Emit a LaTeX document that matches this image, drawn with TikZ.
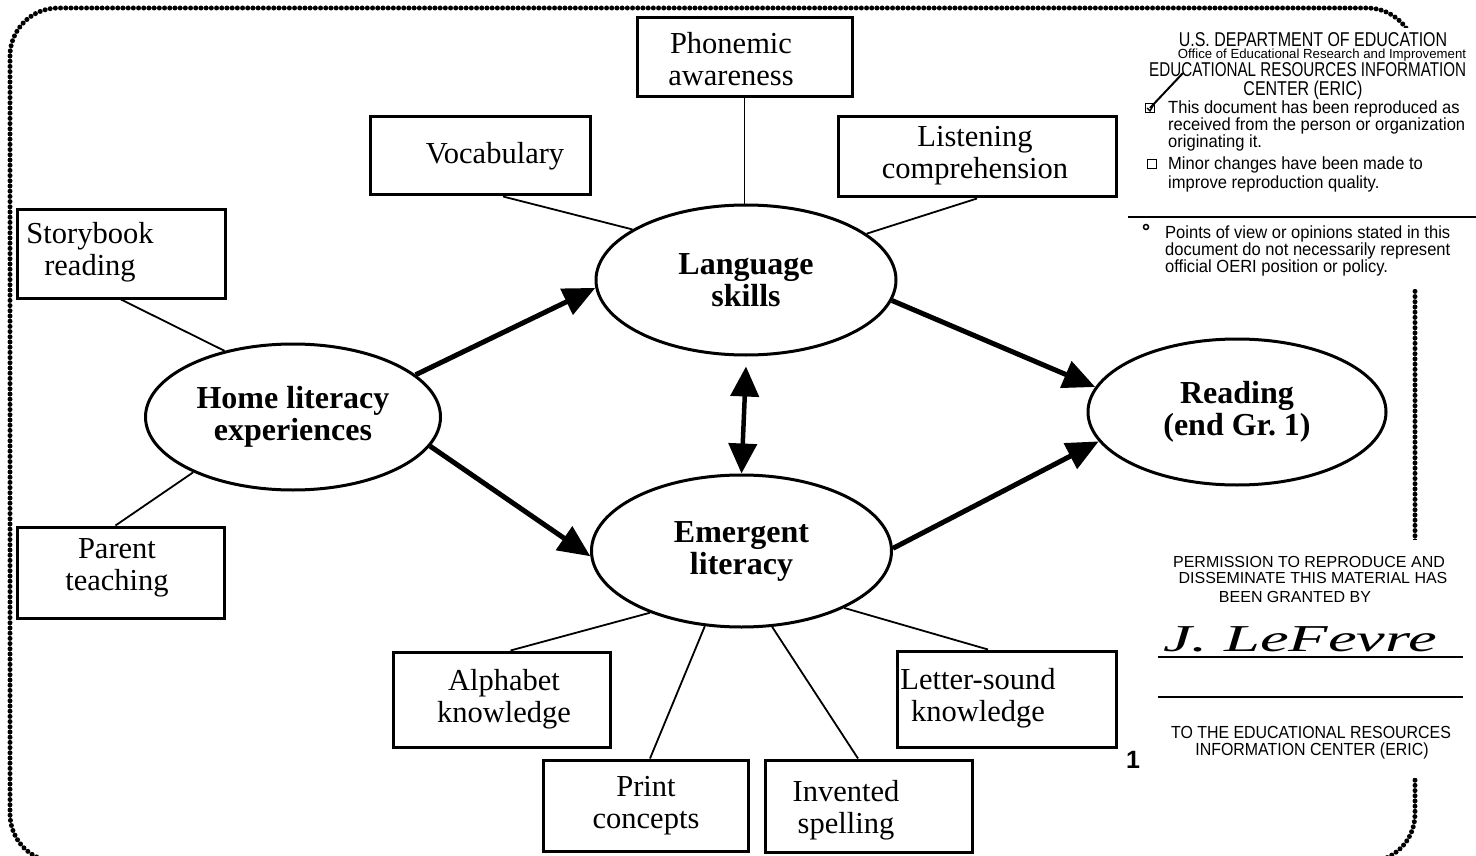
\documentclass[tikz,border=0pt]{standalone}
\usepackage{fontspec}
\setmainfont{Liberation Serif}
\newfontfamily\ericsans{Liberation Sans}
\usetikzlibrary{shapes.geometric,arrows.meta}
\newcommand\ericnarrow[2]{\scalebox{#1}[1]{#2}}
\begin{document}
\begin{tikzpicture}[x=1pt,y=-1pt,
  box/.style={draw,line width=3pt,inner sep=0pt},
  ell/.style={draw,ellipse,line width=3pt,inner sep=0pt,align=center,font=\fontsize{32}{32}\selectfont\bfseries},
  lbl/.style={inner sep=0pt,align=center,font=\fontsize{30.5}{32}\selectfont},
  conn/.style={line width=1.8pt},
  bigarrow/.style={line width=5pt,-{Triangle[length=32pt,width=28pt]}},
  dblarrow/.style={line width=4.5pt,{Triangle[length=30pt,width=28pt]}-{Triangle[length=30pt,width=28pt]}},
  border/.style={line width=5pt,dash pattern=on 0pt off 5.2pt,line cap=round,rounded corners=48pt},
  erichead/.style={inner sep=0pt,anchor=base,font=\ericsans\fontsize{20}{20}\selectfont},
  ericbody/.style={inner sep=0pt,anchor=base west,font=\ericsans\fontsize{17.6}{18}\selectfont},
  ericlow/.style={inner sep=0pt,anchor=base,font=\ericsans\fontsize{16}{17}\selectfont},
  rulel/.style={line width=1.6pt}
]
\useasboundingbox (0,0) rectangle (1476,856);
% border
\draw[border] (10,8) rectangle (1415,862);
\fill[white] (1125,28) rectangle (1476,289);
\fill[white] (1150,540) rectangle (1476,778);

% ellipses
\node[ell,minimum width=300pt,minimum height=150pt] (lang) at (746,280) {Language\\skills};
\node[ell,minimum width=300pt,minimum height=152pt] (emer) at (741.5,551) {Emergent\\literacy};
\node[ell,minimum width=295pt,minimum height=146pt] (home) at (293,417) {Home literacy\\experiences};
\node[ell,minimum width=298pt,minimum height=146pt] (read) at (1237,412) {Reading\\(end Gr.~1)};

% boxes
\node[box,minimum width=215pt,minimum height=79pt] (phon) at (744.5,57.5) {};
\node[box,minimum width=220pt,minimum height=78pt] (voc) at (480,156) {};
\node[box,minimum width=278pt,minimum height=80pt] (lis) at (977,157) {};
\node[box,minimum width=208pt,minimum height=89pt] (story) at (121,253.5) {};
\node[box,minimum width=207pt,minimum height=91pt] (parent) at (120.5,572.5) {};
\node[box,minimum width=217pt,minimum height=95pt] (alpha) at (501.5,699.5) {};
\node[box,minimum width=205pt,minimum height=91pt] (print) at (645.5,805.5) {};
\node[box,minimum width=207pt,minimum height=92pt] (inv) at (868.5,806) {};
\node[box,minimum width=219pt,minimum height=96pt] (letter) at (1006.5,699) {};

% box labels
\node[lbl] (phont) at (731,59) {Phonemic\\awareness};
\node[lbl] (voct) at (495,156) {Vocabulary};
\node[lbl] (list) at (975,156) {Listening\\comprehension};
\node[lbl] (storyt) at (90,252) {Storybook\\reading};
\node[lbl] (parentt) at (117,568) {Parent\\teaching};
\node[lbl] (alphat) at (504,699) {Alphabet\\knowledge};
\node[lbl] (printt) at (646,806) {Print\\concepts};
\node[lbl] (invt) at (846,810) {Invented\\spelling};
\node[lbl] (lettert) at (978,698) {Letter-sound\\knowledge};

% thin connectors
\draw[conn] ([xshift=23pt]voc.south) -- (lang.156);
\draw[conn] (phon.south) -- (phon.south |- lang.north);
\draw[conn] (lis.south) -- (lang.21);
\draw[conn] (story.south) -- (home.136);
\draw[conn] ([xshift=-5pt]parent.north) -- (home.209);
\draw[conn] ([xshift=9pt]alpha.north) -- (emer.214);
\draw[conn] ([xshift=4.5pt]print.north) -- (emer.244);
\draw[conn] ([xshift=-10.5pt]inv.north) -- (emer.292.7);
\draw[conn] ([xshift=-18.5pt]letter.north) -- (emer.331.6);

% thick arrows
\draw[bigarrow] (home.19.6) -- (lang.183);
\draw[bigarrow] (home.348) -- (emer.182);
\draw[bigarrow] (lang.352) -- (read.170);
\draw[bigarrow] (emer.1) -- (read.192);
\draw[dblarrow] ([yshift=-10pt]lang.south) -- (emer.north);

% ERIC stamp, upper part
\node[erichead] (h1) at (1313,47) {\ericnarrow{0.8}{U.S. DEPARTMENT OF EDUCATION}};
\node[inner sep=0pt,anchor=base,font=\ericsans\fontsize{13.2}{14}\selectfont] (h2) at (1322,59) {Office of Educational Research and Improvement};
\node[erichead,anchor=base west] (h3) at (1149,77) {\ericnarrow{0.76}{EDUCATIONAL RESOURCES INFORMATION}};
\node[erichead] (h4) at (1303,96) {\ericnarrow{0.8}{CENTER (ERIC)}};
\node[draw,line width=1.4pt,minimum size=9pt,inner sep=0pt] (cb1) at (1150,108) {};
\draw[line width=1.4pt] ([xshift=-3pt]cb1.center) -- ([yshift=-3pt]cb1.center) -- ([xshift=4pt,yshift=4pt]cb1.center);
\draw[line width=2pt] (cb1.center) -- ++(33,-35);
\node[ericbody] (t1) at (1168,114) {\ericnarrow{0.94}{This document has been reproduced as}};
\node[ericbody] (t2) at (1168,131) {\ericnarrow{0.94}{received from the person or organization}};
\node[ericbody] (t3) at (1168,147.5) {\ericnarrow{0.94}{originating it.}};
\node[draw,line width=1.4pt,minimum size=9.5pt,inner sep=0pt] (cb2) at (1152,164) {};
\node[ericbody] (t4) at (1168,170) {\ericnarrow{0.94}{Minor changes have been made to}};
\node[ericbody] (t5) at (1168,189) {\ericnarrow{0.94}{improve reproduction quality.}};
\draw[rulel] (1128,217) -- (1476,217);
\node[circle,draw,line width=1.5pt,minimum size=5pt,inner sep=0pt] (bul) at (1146,227) {};
\node[ericbody] (t6) at (1165,238) {\ericnarrow{0.94}{Points of view or opinions stated in this}};
\node[ericbody] (t7) at (1165,255) {\ericnarrow{0.94}{document do not necessarily represent}};
\node[ericbody] (t8) at (1165,272) {\ericnarrow{0.94}{official OERI position or policy.}};

% ERIC stamp, lower part
\node[ericlow] (p1) at (1309,567) {PERMISSION TO REPRODUCE AND};
\node[ericlow] (p2) at (1313,583) {DISSEMINATE THIS MATERIAL HAS};
\node[ericlow] (p3) at (1295,602) {BEEN GRANTED BY};
\node[inner sep=0pt,anchor=base] (sig) at (1300,651) {\scalebox{1.7}[1]{\fontsize{38}{38}\selectfont\itshape J. LeFevre}};
\draw[rulel] (1158,657) -- (1463,657);
\draw[rulel] (1158,697) -- (1463,697);
\node[ericlow,font=\ericsans\fontsize{17.5}{18}\selectfont] (p4) at (1311,738) {\ericnarrow{0.91}{TO THE EDUCATIONAL RESOURCES}};
\node[ericlow,font=\ericsans\fontsize{17.5}{18}\selectfont] (p5) at (1312,755) {\ericnarrow{0.91}{INFORMATION CENTER (ERIC)}};
\node[inner sep=0pt,anchor=base,font=\ericsans\bfseries\fontsize{25}{25}\selectfont] (pg) at (1133,768) {1};
\end{tikzpicture}
\end{document}
